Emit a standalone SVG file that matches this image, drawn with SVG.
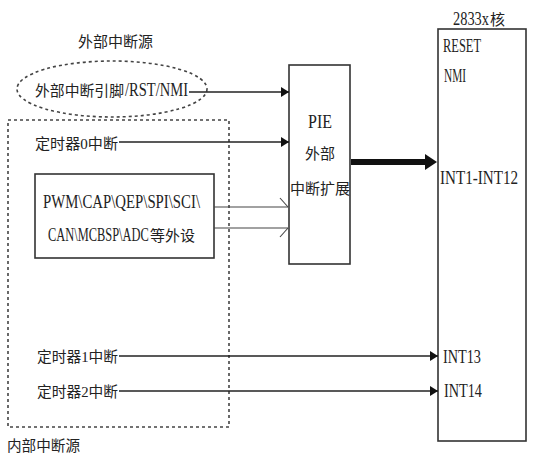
<svg xmlns="http://www.w3.org/2000/svg" width="537" height="460" viewBox="0 0 537 460">
<style>
text{font-family:"Liberation Serif","Noto Sans CJK SC",serif;font-size:15px;fill:#222}
.lat{font-size:18px}
.box{fill:#fff;stroke:#333;stroke-width:1.6}
.ln{fill:none;stroke:#222;stroke-width:1.5}
.thin{fill:none;stroke:#444;stroke-width:1.1}
.dash{fill:none;stroke:#444;stroke-width:1.6;stroke-dasharray:3 3}
</style>
<defs>
<marker id="ah" markerWidth="8" markerHeight="10" refX="8" refY="5" orient="auto" markerUnits="userSpaceOnUse">
<path d="M0,0 L8,5 L0,10 Z" fill="#111"/>
</marker>
</defs>
<rect width="537" height="460" fill="#fff"/>

<g id="ext-source">
<text x="78" y="47" textLength="75" lengthAdjust="spacingAndGlyphs">外部中断源</text>
<ellipse cx="112" cy="89" rx="95" ry="28" class="dash" stroke-width="1.3"/>
<text x="35" y="96" textLength="89" lengthAdjust="spacingAndGlyphs">外部中断引脚</text>
<text x="125" y="96" textLength="63" lengthAdjust="spacingAndGlyphs" class="lat">/RST/NMI</text>
</g>

<g id="int-source">
<rect x="8" y="120" width="221" height="307" class="dash"/>
<text x="7" y="451" textLength="73" lengthAdjust="spacingAndGlyphs">内部中断源</text>
</g>

<g id="timer0">
<text x="35" y="149" textLength="83" lengthAdjust="spacingAndGlyphs">定时器0中断</text>
</g>

<g id="periph">
<rect x="35" y="174" width="179" height="84" class="box"/>
<text x="43" y="208" textLength="157" lengthAdjust="spacingAndGlyphs" class="lat">PWM\CAP\QEP\SPI\SCI\</text>
<text transform="translate(48,241) scale(0.69,1)" class="lat">CAN\MCBSP\ADC</text>
<text x="150" y="241" textLength="45" lengthAdjust="spacingAndGlyphs">等外设</text>
</g>

<g id="pie">
<rect x="289" y="65" width="61" height="199" class="box"/>
<text x="320" y="128" text-anchor="middle" class="lat" textLength="24" lengthAdjust="spacingAndGlyphs">PIE</text>
<text x="320" y="159" text-anchor="middle">外部</text>
<text x="290" y="194" textLength="60" lengthAdjust="spacingAndGlyphs">中断扩展</text>
</g>

<g id="core">
<text transform="translate(453,25) scale(0.8,1)" class="lat">2833x</text>
<text x="490" y="25" textLength="15" lengthAdjust="spacingAndGlyphs">核</text>
<rect x="438" y="29" width="88" height="412" class="box"/>
<text x="443" y="52" textLength="38" lengthAdjust="spacingAndGlyphs" class="lat">RESET</text>
<text x="444" y="82" textLength="22" lengthAdjust="spacingAndGlyphs" class="lat">NMI</text>
<text x="440" y="184" textLength="78" lengthAdjust="spacingAndGlyphs" class="lat">INT1-INT12</text>
<text x="443" y="363" textLength="38" lengthAdjust="spacingAndGlyphs" class="lat">INT13</text>
<text x="444" y="397" textLength="38" lengthAdjust="spacingAndGlyphs" class="lat">INT14</text>
</g>

<g id="timer1">
<text x="37" y="362" textLength="81" lengthAdjust="spacingAndGlyphs">定时器1中断</text>
</g>
<g id="timer2">
<text x="37" y="397" textLength="81" lengthAdjust="spacingAndGlyphs">定时器2中断</text>
</g>

<g id="connectors">
<line x1="189" y1="92" x2="289" y2="92" class="ln" marker-end="url(#ah)"/>
<line x1="119" y1="142" x2="289" y2="142" class="ln" marker-end="url(#ah)"/>
<line x1="214" y1="207" x2="288" y2="207" class="thin"/>
<polyline points="280,198 288,207" class="thin"/>
<line x1="214" y1="228" x2="288" y2="228" class="thin"/>
<polyline points="280,237 288,228" class="thin"/>
<line x1="351" y1="162" x2="427" y2="162" stroke="#111" stroke-width="6"/>
<path d="M425,154 L437,162 L425,170 Z" fill="#111"/>
<line x1="119" y1="356" x2="438" y2="356" class="ln" marker-end="url(#ah)"/>
<line x1="119" y1="391" x2="438" y2="391" class="ln" marker-end="url(#ah)"/>
</g>
</svg>
